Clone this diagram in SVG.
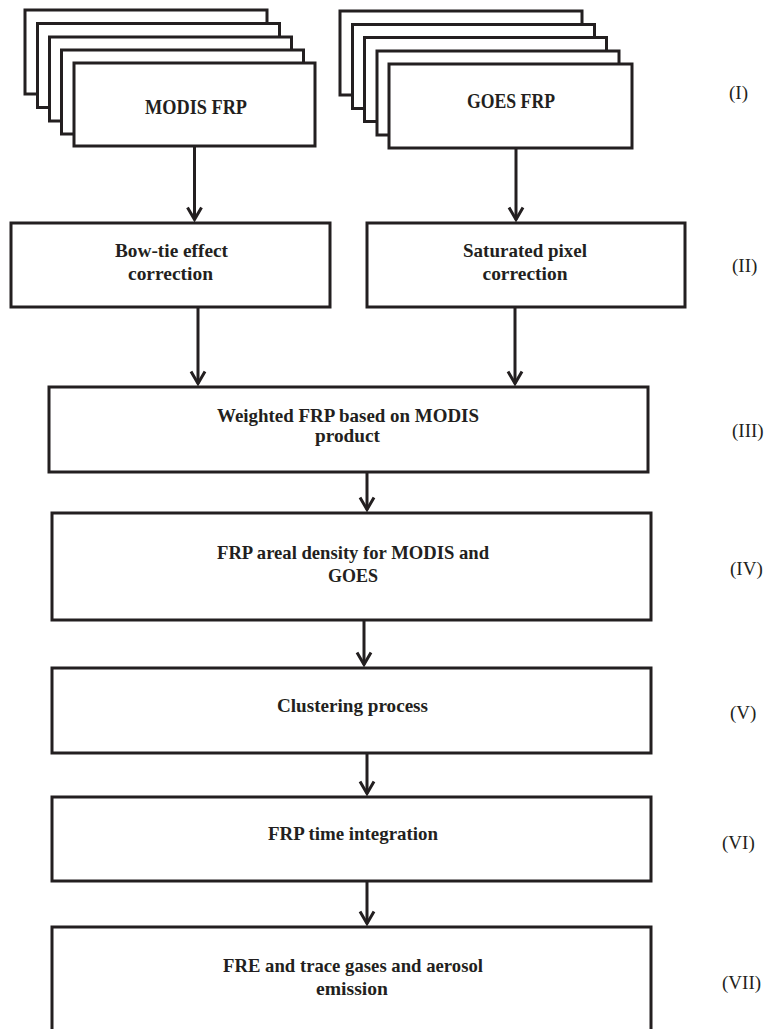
<svg xmlns="http://www.w3.org/2000/svg" width="774" height="1029" viewBox="0 0 774 1029">
<defs>
<style>
.box{fill:#fff;stroke:#231f20;stroke-width:3;stroke-linejoin:miter}
.con{fill:none;stroke:#231f20;stroke-width:3}
.t{font-family:"Liberation Serif","Times New Roman",serif;font-size:19.5px;font-weight:bold;fill:#231f20;text-anchor:middle}
.lab{font-family:"Liberation Serif","Times New Roman",serif;font-size:19px;fill:#231f20}
</style>
<marker id="arr" viewBox="-2 -9 18 18" markerWidth="18" markerHeight="18" refX="12" refY="0" orient="auto" markerUnits="userSpaceOnUse">
<path d="M0,-7 L12,0 L0,7" fill="none" stroke="#231f20" stroke-width="3" stroke-linejoin="miter"/>
</marker>
</defs>
<rect width="774" height="1029" fill="#fff"/>

<g id="modis-frp">
<rect class="box" x="25" y="10" width="242" height="84"/>
<rect class="box" x="37.5" y="23.5" width="242" height="84"/>
<rect class="box" x="49.5" y="37" width="242" height="84"/>
<rect class="box" x="61.5" y="50" width="242" height="84"/>
<rect class="box" x="74" y="63" width="241" height="83"/>
<text class="t" x="196" y="114" textLength="102" lengthAdjust="spacingAndGlyphs" style="font-size:20.5px">MODIS FRP</text>
</g>

<g id="goes-frp">
<rect class="box" x="340" y="11" width="242" height="84"/>
<rect class="box" x="352.5" y="24.5" width="242" height="84"/>
<rect class="box" x="364.5" y="37.5" width="242" height="84"/>
<rect class="box" x="377" y="51" width="242" height="84"/>
<rect class="box" x="389" y="64" width="243" height="84"/>
<text class="t" x="511" y="108" textLength="88" lengthAdjust="spacingAndGlyphs" style="font-size:20.5px">GOES FRP</text>
</g>

<g id="bowtie">
<rect class="box" x="11" y="223" width="319" height="84"/>
<text class="t" x="171.5" y="257" textLength="113" lengthAdjust="spacingAndGlyphs">Bow-tie effect</text>
<text class="t" x="170.5" y="280" textLength="85" lengthAdjust="spacingAndGlyphs">correction</text>
</g>

<g id="saturated">
<rect class="box" x="367" y="223" width="318" height="84"/>
<text class="t" x="525" y="257" textLength="124" lengthAdjust="spacingAndGlyphs">Saturated pixel</text>
<text class="t" x="525" y="280" textLength="85" lengthAdjust="spacingAndGlyphs">correction</text>
</g>

<g id="weighted">
<rect class="box" x="49" y="387" width="599" height="85"/>
<text class="t" x="348" y="422" textLength="262" lengthAdjust="spacingAndGlyphs">Weighted FRP based on MODIS</text>
<text class="t" x="347.5" y="442" textLength="65" lengthAdjust="spacingAndGlyphs">product</text>
</g>

<g id="areal">
<rect class="box" x="52" y="513" width="599" height="107"/>
<text class="t" x="353" y="559" textLength="272" lengthAdjust="spacingAndGlyphs">FRP areal density for MODIS and</text>
<text class="t" x="353" y="581.5" textLength="50" lengthAdjust="spacingAndGlyphs">GOES</text>
</g>

<g id="clustering">
<rect class="box" x="52" y="668" width="599" height="85"/>
<text class="t" x="352.5" y="712" textLength="151" lengthAdjust="spacingAndGlyphs">Clustering process</text>
</g>

<g id="time">
<rect class="box" x="52" y="797" width="599" height="84"/>
<text class="t" x="353" y="840" textLength="170" lengthAdjust="spacingAndGlyphs">FRP time integration</text>
</g>

<g id="fre">
<rect class="box" x="52" y="927" width="599" height="130"/>
<text class="t" x="353" y="972" textLength="260" lengthAdjust="spacingAndGlyphs">FRE and trace gases and aerosol</text>
<text class="t" x="352" y="995" textLength="72" lengthAdjust="spacingAndGlyphs">emission</text>
</g>

<g id="connectors">
<line class="con" x1="194.5" y1="146" x2="194.5" y2="219.5" marker-end="url(#arr)"/>
<line class="con" x1="516" y1="148" x2="516" y2="219.5" marker-end="url(#arr)"/>
<line class="con" x1="198" y1="307" x2="198" y2="383.5" marker-end="url(#arr)"/>
<line class="con" x1="515" y1="307" x2="515" y2="383.5" marker-end="url(#arr)"/>
<line class="con" x1="367" y1="472" x2="367" y2="509.5" marker-end="url(#arr)"/>
<line class="con" x1="364" y1="620" x2="364" y2="664.5" marker-end="url(#arr)"/>
<line class="con" x1="367" y1="753" x2="367" y2="793.5" marker-end="url(#arr)"/>
<line class="con" x1="367" y1="881" x2="367" y2="923.5" marker-end="url(#arr)"/>
</g>

<g id="labels">
<text class="lab" x="729" y="99">(I)</text>
<text class="lab" x="732" y="272">(II)</text>
<text class="lab" x="732" y="437">(III)</text>
<text class="lab" x="730" y="575">(IV)</text>
<text class="lab" x="730" y="719">(V)</text>
<text class="lab" x="722" y="849">(VI)</text>
<text class="lab" x="722" y="989">(VII)</text>
</g>
</svg>
